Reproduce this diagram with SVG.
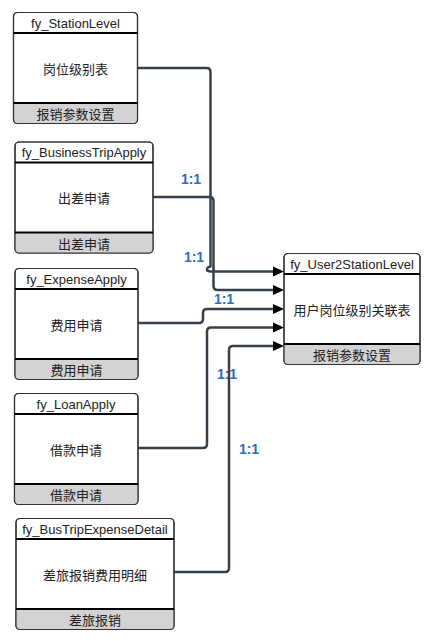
<svg xmlns="http://www.w3.org/2000/svg" width="443" height="641" viewBox="0 0 443 641">
  <style>
    .box { fill: #ffffff; stroke: #333333; stroke-width: 1.2; }
    .foot { fill: #d3d3d3; }
    .sep { stroke: #000000; stroke-width: 2.2; }
    .hd { font-family: "Liberation Sans", "Noto Sans CJK SC", sans-serif; font-size: 13px; fill: #222222; text-anchor: middle; dominant-baseline: central; }
    .zh { font-family: "Noto Sans CJK SC", "Liberation Sans", sans-serif; font-size: 13px; fill: #222222; text-anchor: middle; dominant-baseline: central; }
    .wire { fill: none; stroke: #37414c; stroke-width: 2.5; stroke-linejoin: round; }
    .head { fill: #000000; }
    .card { font-family: "Liberation Sans", sans-serif; font-size: 14px; font-weight: bold; fill: #2a6ebb; text-anchor: middle; dominant-baseline: central; }
  </style>
  <defs>
    <clipPath id="c1"><rect x="13.5" y="12.5" width="124" height="111" rx="4"/></clipPath>
    <clipPath id="c2"><rect x="15" y="142" width="138" height="111" rx="4"/></clipPath>
    <clipPath id="c3"><rect x="15" y="268.5" width="123" height="111" rx="4"/></clipPath>
    <clipPath id="c4"><rect x="14.5" y="393.5" width="123.5" height="111" rx="4"/></clipPath>
    <clipPath id="c5"><rect x="16" y="518.5" width="158" height="111" rx="4"/></clipPath>
    <clipPath id="c6"><rect x="284" y="253.5" width="136" height="111" rx="4"/></clipPath>
  </defs>

  <!-- connectors: routed wires, each ending in a filled arrowhead at the target's left edge -->
  <g id="connectors">
    <path class="wire" d="M137.5,68 H206.5 Q210.5,68 210.5,72 V266.5 Q207,267 207,269.5 Q207,271.5 211,271.5 H275"/>
    <path class="wire" d="M153,197 H209.5 Q213.5,197 213.5,201 V286 Q213.5,290 217.5,290 H275"/>
    <path class="wire" d="M138,323 H199 Q203,323 203,319 V313 Q203,309 207,309 H275"/>
    <path class="wire" d="M138,448 H203 Q207,448 207,444 V331.5 Q207,327.5 211,327.5 H275"/>
    <path class="wire" d="M174,572 H225 Q229,572 229,568 V350 Q229,346 233,346 H275"/>
    <path class="head" d="M273,266.5 L284,271.5 L273,276.5 Z"/>
    <path class="head" d="M273,285 L284,290 L273,295 Z"/>
    <path class="head" d="M273,304 L284,309 L273,314 Z"/>
    <path class="head" d="M273,322.5 L284,327.5 L273,332.5 Z"/>
    <path class="head" d="M273,341 L284,346 L273,351 Z"/>
    <text class="card" x="191" y="179">1:1</text>
    <text class="card" x="194" y="256.5">1:1</text>
    <text class="card" x="224" y="298.5">1:1</text>
    <text class="card" x="227" y="373.5">1:1</text>
    <text class="card" x="249" y="449">1:1</text>
  </g>

  <!-- fy_StationLevel -->
  <g id="fy_StationLevel">
    <rect class="box" x="13.5" y="12.5" width="124" height="111" rx="4"/>
    <rect class="foot" x="13.5" y="103" width="124" height="20.5" clip-path="url(#c1)"/>
    <rect x="13.5" y="12.5" width="124" height="111" rx="4" fill="none" stroke="#333333" stroke-width="1.2"/>
    <line class="sep" x1="13.5" y1="33" x2="137.5" y2="33"/>
    <line class="sep" x1="13.5" y1="103" x2="137.5" y2="103"/>
    <text class="hd" x="75.5" y="23">fy_StationLevel</text>
    <text class="zh" x="75.5" y="68">岗位级别表</text>
    <text class="zh" x="75.5" y="113.5">报销参数设置</text>
  </g>

  <!-- fy_BusinessTripApply -->
  <g id="fy_BusinessTripApply">
    <rect class="box" x="15" y="142" width="138" height="111" rx="4"/>
    <rect class="foot" x="15" y="232.5" width="138" height="20.5" clip-path="url(#c2)"/>
    <rect x="15" y="142" width="138" height="111" rx="4" fill="none" stroke="#333333" stroke-width="1.2"/>
    <line class="sep" x1="15" y1="162.5" x2="153" y2="162.5"/>
    <line class="sep" x1="15" y1="232.5" x2="153" y2="232.5"/>
    <text class="hd" x="84" y="152.5">fy_BusinessTripApply</text>
    <text class="zh" x="84" y="197.5">出差申请</text>
    <text class="zh" x="84" y="243">出差申请</text>
  </g>

  <!-- fy_ExpenseApply -->
  <g id="fy_ExpenseApply">
    <rect class="box" x="15" y="268.5" width="123" height="111" rx="4"/>
    <rect class="foot" x="15" y="359" width="123" height="20.5" clip-path="url(#c3)"/>
    <rect x="15" y="268.5" width="123" height="111" rx="4" fill="none" stroke="#333333" stroke-width="1.2"/>
    <line class="sep" x1="15" y1="289" x2="138" y2="289"/>
    <line class="sep" x1="15" y1="359" x2="138" y2="359"/>
    <text class="hd" x="76.5" y="279">fy_ExpenseApply</text>
    <text class="zh" x="76.5" y="324">费用申请</text>
    <text class="zh" x="76.5" y="369.5">费用申请</text>
  </g>

  <!-- fy_LoanApply -->
  <g id="fy_LoanApply">
    <rect class="box" x="14.5" y="393.5" width="123.5" height="111" rx="4"/>
    <rect class="foot" x="14.5" y="484" width="123.5" height="20.5" clip-path="url(#c4)"/>
    <rect x="14.5" y="393.5" width="123.5" height="111" rx="4" fill="none" stroke="#333333" stroke-width="1.2"/>
    <line class="sep" x1="14.5" y1="414" x2="138" y2="414"/>
    <line class="sep" x1="14.5" y1="484" x2="138" y2="484"/>
    <text class="hd" x="76" y="404">fy_LoanApply</text>
    <text class="zh" x="76" y="449">借款申请</text>
    <text class="zh" x="76" y="494.5">借款申请</text>
  </g>

  <!-- fy_BusTripExpenseDetail -->
  <g id="fy_BusTripExpenseDetail">
    <rect class="box" x="16" y="518.5" width="158" height="111" rx="4"/>
    <rect class="foot" x="16" y="609" width="158" height="20.5" clip-path="url(#c5)"/>
    <rect x="16" y="518.5" width="158" height="111" rx="4" fill="none" stroke="#333333" stroke-width="1.2"/>
    <line class="sep" x1="16" y1="539" x2="174" y2="539"/>
    <line class="sep" x1="16" y1="609" x2="174" y2="609"/>
    <text class="hd" x="95" y="529" font-size="13.5">fy_BusTripExpenseDetail</text>
    <text class="zh" x="95" y="574">差旅报销费用明细</text>
    <text class="zh" x="95" y="619.5">差旅报销</text>
  </g>

  <!-- fy_User2StationLevel -->
  <g id="fy_User2StationLevel">
    <rect class="box" x="284" y="253.5" width="136" height="111" rx="4"/>
    <rect class="foot" x="284" y="344" width="136" height="20.5" clip-path="url(#c6)"/>
    <rect x="284" y="253.5" width="136" height="111" rx="4" fill="none" stroke="#333333" stroke-width="1.2"/>
    <line class="sep" x1="284" y1="274" x2="420" y2="274"/>
    <line class="sep" x1="284" y1="344" x2="420" y2="344"/>
    <text class="hd" x="352" y="264">fy_User2StationLevel</text>
    <text class="zh" x="352" y="309">用户岗位级别关联表</text>
    <text class="zh" x="352" y="354.5">报销参数设置</text>
  </g>
</svg>
